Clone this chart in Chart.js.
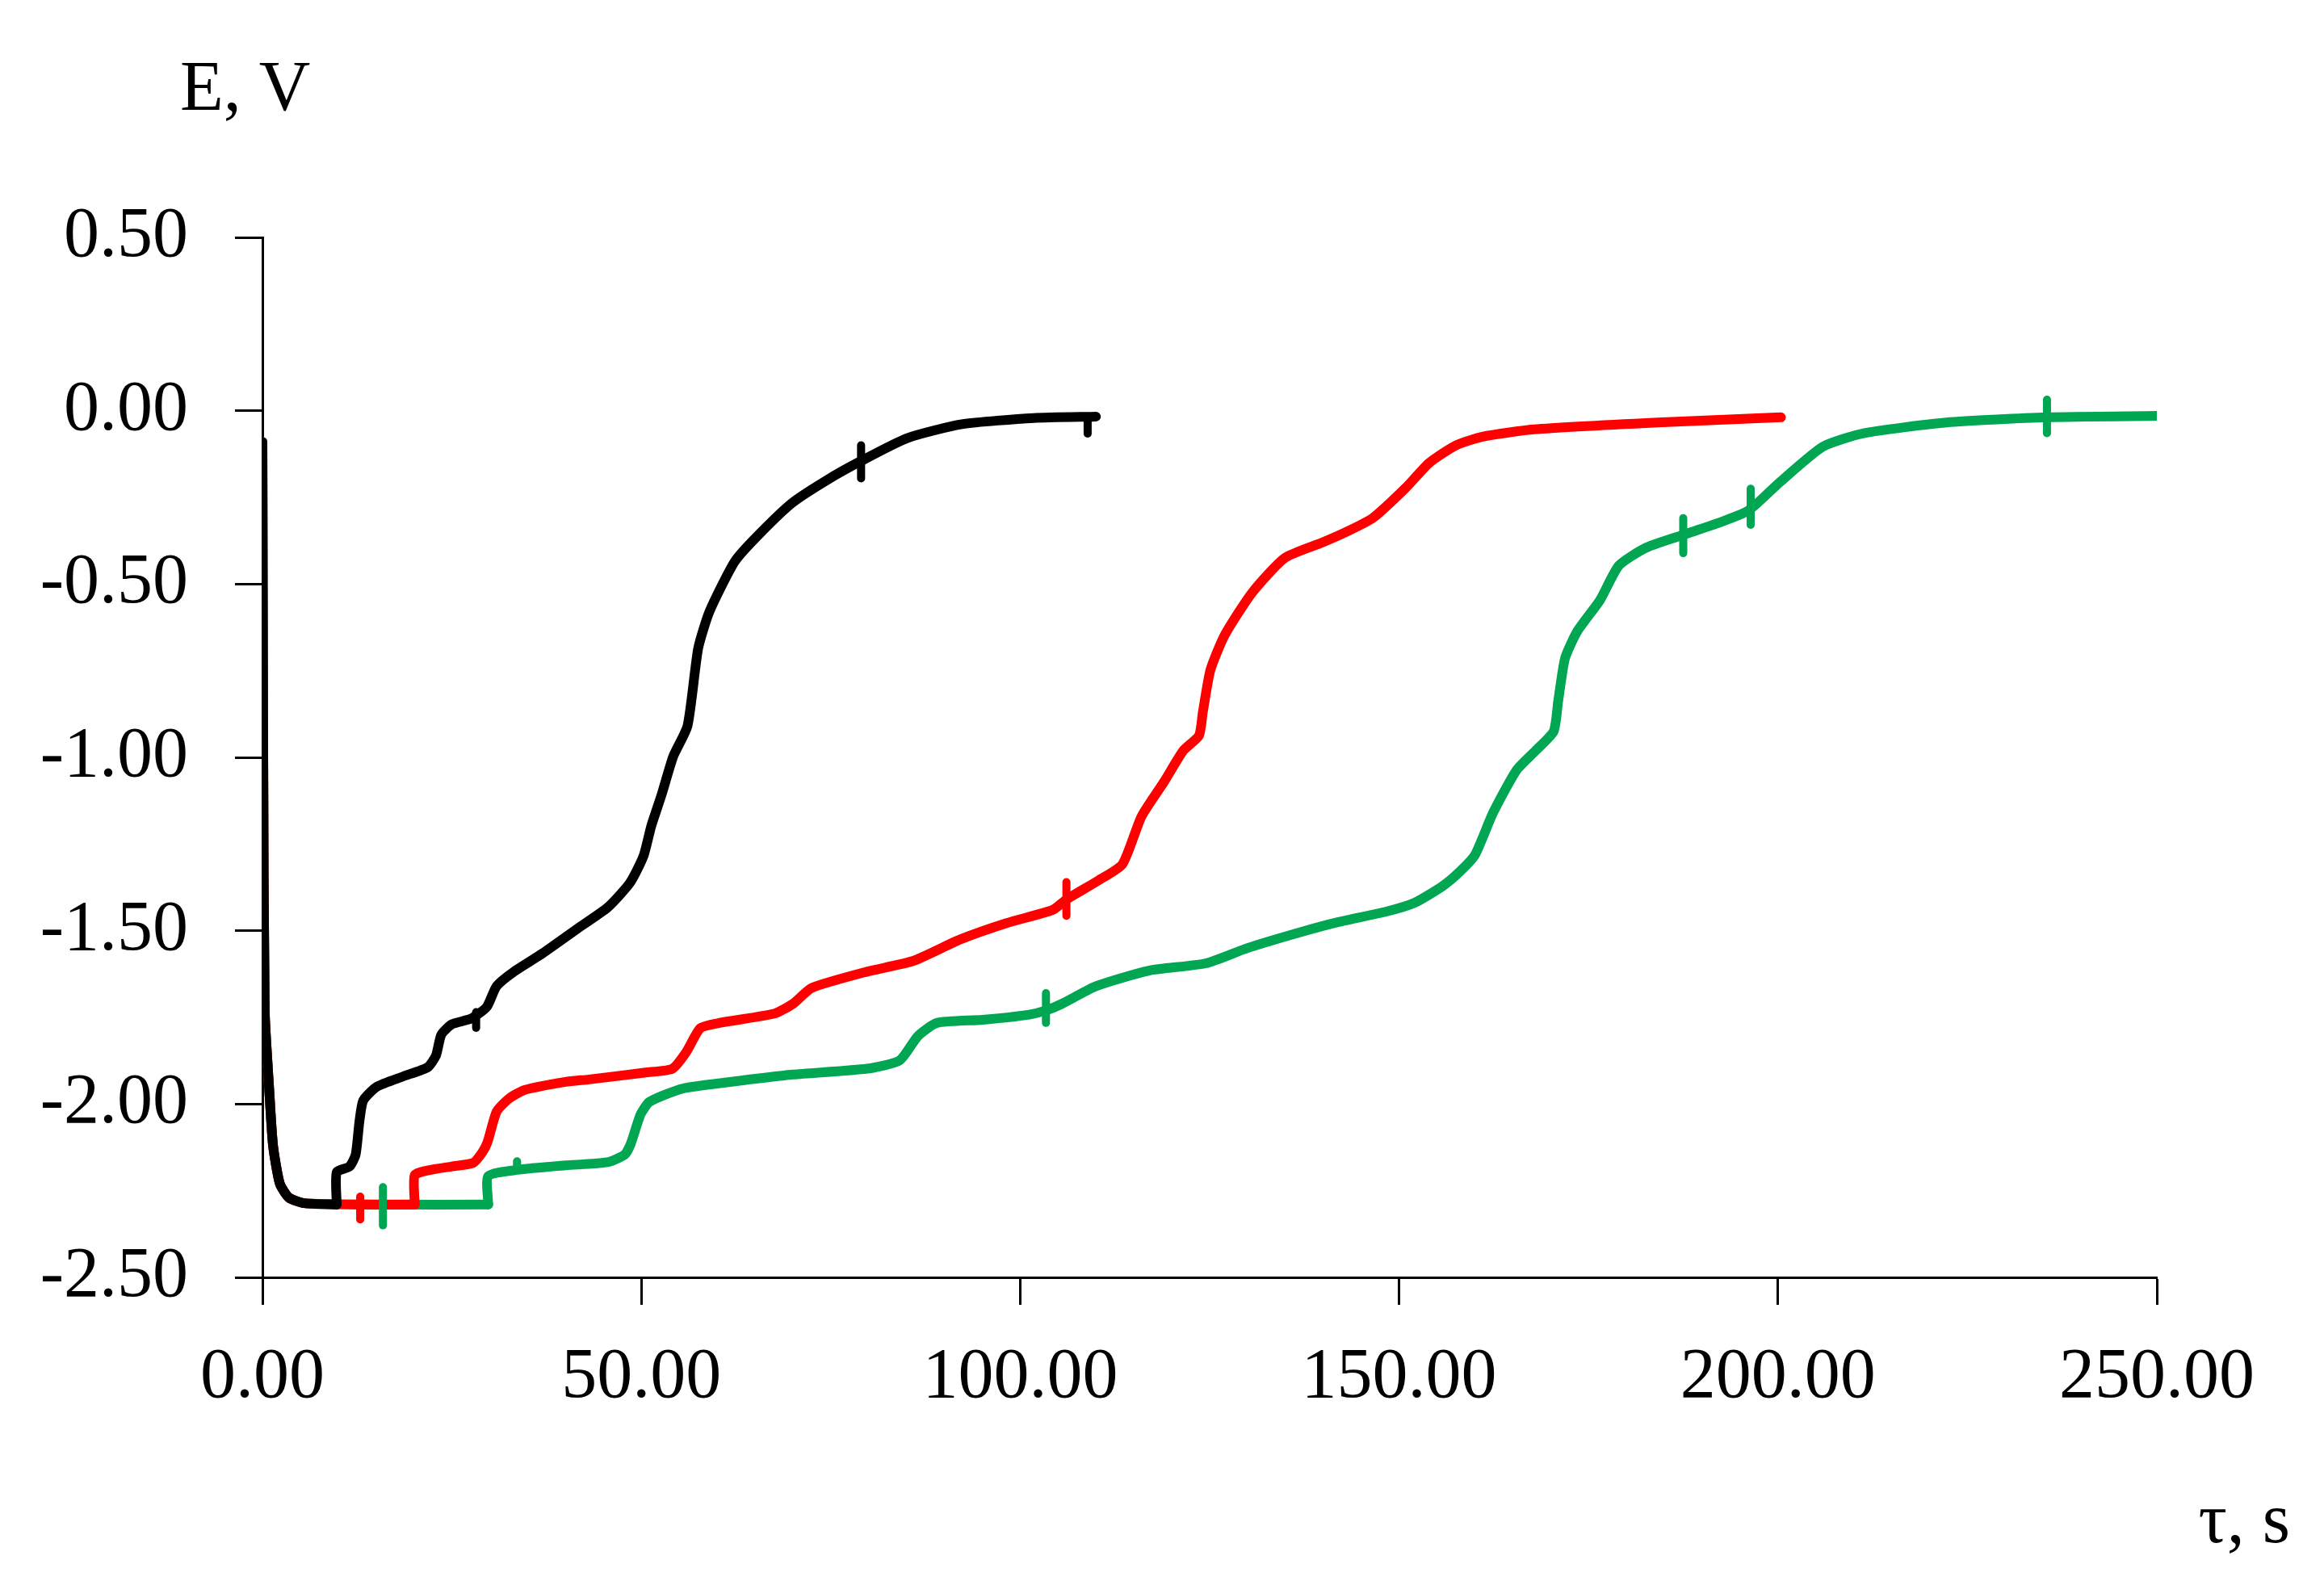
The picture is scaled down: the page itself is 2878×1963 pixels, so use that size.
<!DOCTYPE html>
<html>
<head>
<meta charset="utf-8">
<script src="https://cdn.jsdelivr.net/npm/chart.js@4.4.1/dist/chart.umd.min.js"></script>
<style>
  html, body { margin: 0; padding: 0; background: #ffffff; }
  #wrap { width: 2878px; height: 1963px; position: relative; }
</style>
</head>
<body>
<div id="wrap"><canvas id="c" width="2878" height="1963"></canvas></div>
<script>
// ---- Data ----
const yTitle = "E, V";
const xTitle = "τ, s";

const xMin = 0, xMax = 250, xStep = 50;
const yMin = -2.5, yMax = 0.5, yStep = 0.5;

const blackT = [0, 0.1, 0.3, 0.9, 1.4, 2.3, 3.5, 5.5, 9.8, 9.8, 11.5, 12.3, 12.8, 13.3, 15.1, 18.6, 21.8, 22.9, 23.6, 25.0, 27.5, 29.6, 30.9, 33.2, 37.0, 42.1, 45.6, 48.5, 50.3, 51.3, 52.7, 54.2, 56.1, 57.5, 59.0, 62.3, 65.2, 69.9, 74.5, 79.0, 85.1, 92.3, 101.8, 110.0];
const blackE = [-0.09, -0.95, -1.73, -1.96, -2.12, -2.23, -2.27, -2.286, -2.29, -2.197, -2.18, -2.146, -2.05, -1.99, -1.95, -1.92, -1.894, -1.86, -1.80, -1.77, -1.754, -1.72, -1.66, -1.618, -1.565, -1.486, -1.432, -1.362, -1.284, -1.199, -1.106, -0.998, -0.909, -0.686, -0.579, -0.436, -0.364, -0.266, -0.20, -0.145, -0.079, -0.039, -0.021, -0.017];

const redT = [0, 0.1, 0.3, 0.9, 1.4, 2.3, 3.5, 5.5, 12.9, 20.1, 20.1, 22.2, 25.0, 27.8, 29.0, 29.7, 30.9, 32.5, 34.5, 40.0, 43.1, 50.6, 54.1, 55.9, 57.8, 60.3, 67.6, 70.0, 72.5, 79.8, 85.9, 92.1, 98.2, 104.3, 106.1, 110.4, 113.5, 116.0, 119.0, 121.5, 123.6, 124.1, 125.1, 127.0, 130.6, 134.9, 139.9, 143.0, 146.5, 150.8, 154.0, 157.5, 161.0, 167.8, 184.1, 200.4];
const redE = [-0.09, -0.95, -1.73, -1.96, -2.12, -2.23, -2.27, -2.286, -2.29, -2.29, -2.205, -2.19, -2.18, -2.17, -2.14, -2.11, -2.022, -1.985, -1.96, -1.936, -1.929, -1.909, -1.898, -1.851, -1.781, -1.766, -1.739, -1.711, -1.665, -1.618, -1.587, -1.525, -1.478, -1.44, -1.41, -1.354, -1.308, -1.171, -1.07, -0.981, -0.937, -0.87, -0.748, -0.647, -0.525, -0.425, -0.38, -0.35, -0.31, -0.224, -0.15, -0.10, -0.075, -0.054, -0.034, -0.019];

const greenT = [0, 0.1, 0.3, 0.9, 1.4, 2.3, 3.5, 5.5, 15.9, 29.8, 29.8, 33.6, 40.0, 45.5, 47.8, 48.6, 49.9, 51.0, 52.9, 55.5, 61.5, 70.0, 79.8, 84.1, 86.5, 89.0, 95.0, 101.2, 103.4, 105.5, 110.0, 117.0, 124.5, 130.0, 136.7, 142.0, 148.3, 152.0, 155.7, 158.0, 160.0, 162.4, 165.5, 168.0, 170.4, 171.0, 171.9, 173.5, 176.5, 179.0, 182.6, 187.5, 192.0, 196.1, 200.3, 205.9, 211.3, 222.2, 235.5, 250.0];
const greenE = [-0.09, -0.95, -1.73, -1.96, -2.12, -2.23, -2.27, -2.286, -2.29, -2.29, -2.208, -2.19, -2.177, -2.168, -2.146, -2.115, -2.03, -1.995, -1.975, -1.955, -1.937, -1.915, -1.898, -1.874, -1.804, -1.766, -1.757, -1.742, -1.73, -1.711, -1.66, -1.615, -1.594, -1.55, -1.506, -1.475, -1.445, -1.42, -1.372, -1.33, -1.282, -1.16, -1.037, -0.981, -0.925, -0.837, -0.714, -0.637, -0.547, -0.447, -0.395, -0.358, -0.325, -0.288, -0.205, -0.104, -0.065, -0.034, -0.019, -0.015];

// small vertical error-bar-like marks on each curve: time, low, high
const blackBarT  = [28.2, 79.0, 108.9];
const blackBarLo = [-1.78, -0.195, -0.066];
const blackBarHi = [-1.735, -0.10, -0.017];

const redBarT  = [12.9, 106.1];
const redBarLo = [-2.333, -1.457];
const redBarHi = [-2.267, -1.36];

const greenBarT  = [15.9, 33.6, 103.4, 187.5, 196.4, 235.5];
const greenBarLo = [-2.35, -2.19, -1.766, -0.411, -0.329, -0.065];
const greenBarHi = [-2.24, -2.165, -1.68, -0.31, -0.225, 0.032];

// ---- Styles ----
const BLACK = "#000000", RED = "#FF0000", GREEN = "#00A651";
const FONT = '"Liberation Serif", "Times New Roman", serif';

function pts(T, E) { return T.map((t, i) => ({ x: t, y: E[i] })); }

// split a series at its vertical steps (repeated time) so the smoothing keeps sharp step corners
function curve(T, E, color, order) {
  const all = pts(T, E);
  const pieces = [];
  let start = 0;
  for (let i = 1; i < all.length; i++) {
    if (all[i].x === all[i - 1].x) {
      pieces.push(all.slice(start, i));
      start = i - 1;
    }
  }
  pieces.push(all.slice(start));
  return pieces.map(p => ({ data: p, borderColor: color, backgroundColor: color, borderWidth: 12,
           pointRadius: 0, tension: 0.2, fill: false, order: order,
           borderJoinStyle: "round", borderCapStyle: "round" }));
}
function bars(T, Lo, Hi, color) {
  return T.map((t, i) => ({ data: [{ x: t, y: Lo[i] }, { x: t, y: Hi[i] }],
    borderColor: color, backgroundColor: color, borderWidth: 10, pointRadius: 0,
    tension: 0, fill: false, order: 0, borderCapStyle: "round" }));
}

const datasets = [
  ...curve(greenT, greenE, GREEN, 3),
  ...curve(redT, redE, RED, 2),
  ...curve(blackT, blackE, BLACK, 1),
  ...bars(greenBarT, greenBarLo, greenBarHi, GREEN),
  ...bars(redBarT, redBarLo, redBarHi, RED),
  ...bars(blackBarT, blackBarLo, blackBarHi, BLACK)
];

const titlesPlugin = {
  id: "axisTitles",
  afterDraw(chart) {
    const ctx = chart.ctx, a = chart.chartArea;
    ctx.save();
    ctx.fillStyle = "#000";
    ctx.font = "88px " + FONT;
    ctx.textBaseline = "alphabetic";
    ctx.textAlign = "left";
    ctx.fillText(yTitle, a.left - 102, a.top - 158);
    ctx.textAlign = "right";
    ctx.fillText(xTitle, a.right + 165, a.bottom + 328);
    ctx.restore();
  }
};

const fmt = v => Number(v).toFixed(2);

new Chart(document.getElementById("c"), {
  type: "line",
  data: { datasets },
  plugins: [titlesPlugin],
  options: {
    responsive: false,
    animation: false,
    devicePixelRatio: 1,
    layout: { padding: { top: 294, right: 207, bottom: 0, left: 0 } },
    plugins: { legend: { display: false }, tooltip: { enabled: false }, title: { display: false } },
    scales: {
      x: {
        type: "linear", min: xMin, max: xMax,
        afterFit(s) { s.height = 381; },
        border: { display: true, color: "#000", width: 3 },
        grid: { display: true, drawOnChartArea: false, drawTicks: true, tickLength: 34, tickColor: "#000", tickWidth: 3 },
        ticks: { stepSize: xStep, callback: fmt, color: "#000", padding: 38, maxRotation: 0,
                 font: { family: FONT, size: 88 } }
      },
      y: {
        type: "linear", min: yMin, max: yMax,
        afterFit(s) { s.width = 325; },
        border: { display: true, color: "#000", width: 3 },
        grid: { display: true, drawOnChartArea: false, drawTicks: true, tickLength: 34, tickColor: "#000", tickWidth: 3 },
        ticks: { stepSize: yStep, callback: fmt, color: "#000", padding: 58,
                 font: { family: FONT, size: 88 } }
      }
    }
  }
});
</script>
</body>
</html>
